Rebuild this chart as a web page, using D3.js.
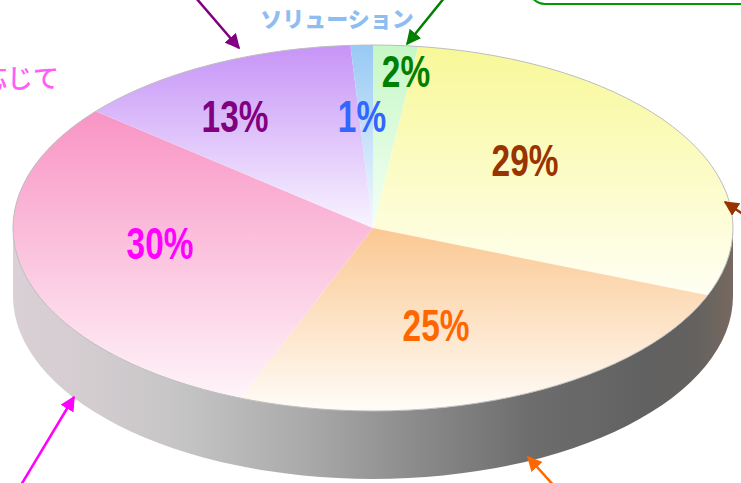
<!DOCTYPE html>
<html><head><meta charset="utf-8">
<script src="https://cdn.jsdelivr.net/npm/d3@7"></script>
<style>
html,body{margin:0;padding:0;background:#fff;overflow:hidden;}
svg{display:block;}
.pct{font-family:"Liberation Sans",Arial,sans-serif;font-weight:bold;}
.jp{font-family:"Noto Sans CJK JP","Noto Sans CJK SC",sans-serif;}
</style></head>
<body>
<script>
// ---- data ----
const categories = ["green","yellow","orange","pink","purple","blue"];
const values = [2, 29, 25, 30, 13, 1];
const labels = ["2%","29%","25%","30%","13%","1%"];
const topColors = ["#c6f7c6","#f8f898","#fbc892","#f894c4","#c794f7","#98c9f4"];
const bottomColors = ["#f4fff4","#fffff4","#fffcf8","#fff4f9","#f8f4ff","#f4f9ff"];
const labelColors = ["#008000","#993300","#ff6600","#ff00ff","#800080","#3366ff"];
// label centres (layout)
const labelPos = [[406,72],[525,161],[436,326],[160,244],[235,117],[362,117]];

const W = 741, H = 483;
const cx = 373, cy = 228, rx = 360, ry = 183, depth = 68;

const svg = d3.select("body").append("svg").attr("width", W).attr("height", H);
const defs = svg.append("defs");

// side gradient
const sg = defs.append("linearGradient").attr("id","side")
  .attr("gradientUnits","userSpaceOnUse")
  .attr("x1", cx-rx).attr("x2", cx+rx).attr("y1",0).attr("y2",0);
[[0,"#dad0d5"],[0.12,"#d2cccf"],[0.23,"#c6c5c6"],[0.4,"#ababab"],[0.58,"#878787"],
 [0.72,"#6d6d6d"],[0.88,"#616161"],[0.95,"#646260"],[1,"#77695f"]]
 .forEach(([o,c]) => sg.append("stop").attr("offset",o).attr("stop-color",c));

// slice gradients
categories.forEach((c,i) => {
  const g = defs.append("linearGradient").attr("id","g"+i)
    .attr("x1",0).attr("y1",0).attr("x2",0).attr("y2",1);
  g.append("stop").attr("offset",0).attr("stop-color",topColors[i]);
  g.append("stop").attr("offset",1).attr("stop-color",bottomColors[i]);
});

// side (front half extruded)
svg.append("path")
  .attr("d", `M${cx-rx},${cy} A${rx},${ry} 0 0 0 ${cx+rx},${cy} L${cx+rx},${cy+depth} A${rx},${ry} 0 0 1 ${cx-rx},${cy+depth} Z`)
  .attr("fill","url(#side)");

// top slices
const pieData = d3.pie().sort(null).value(d => d)(values);
const arc = d3.arc().innerRadius(0).outerRadius(rx);
const topFace = svg.append("g").attr("transform", `translate(${cx},${cy}) scale(1,${ry/rx})`);
topFace.selectAll("path.slice").data(pieData).join("path")
  .attr("class","slice")
  .attr("d", arc)
  .attr("fill", (d,i) => `url(#g${i})`);

// outline
svg.append("ellipse").attr("cx",cx).attr("cy",cy).attr("rx",rx).attr("ry",ry)
  .attr("fill","none").attr("stroke","#bdbdbd").attr("stroke-width",1);

// percentage labels (condensed)
svg.selectAll("text.pct").data(labels).join("text")
  .attr("class","pct")
  .attr("transform",(d,i)=>`translate(${labelPos[i][0]},${labelPos[i][1]}) scale(0.76,1)`)
  .attr("text-anchor","middle").attr("dominant-baseline","central")
  .attr("font-size",44)
  .attr("fill",(d,i)=>labelColors[i])
  .text(d=>d);

// outer annotation labels (cropped by the frame as in the source)
svg.append("text").attr("class","jp").attr("x",337).attr("y",27)
  .attr("text-anchor","middle").attr("font-size",22).attr("font-weight",900)
  .attr("fill","#8ebdf0")
  .text("ソリューション");
svg.append("text").attr("class","jp").attr("x",59).attr("y",88)
  .attr("text-anchor","end").attr("font-size",26).attr("font-weight",500)
  .attr("fill","#ff5cf8")
  .text("状況に応じて");

// green rounded box
svg.append("rect").attr("x",529).attr("y",-60).attr("width",260).attr("height",64)
  .attr("rx",16).attr("fill","none").attr("stroke","#009900").attr("stroke-width",2);

// arrows
function arrowMarker(id,color){
  defs.append("marker").attr("id",id).attr("viewBox","0 0 10 10")
    .attr("refX",9).attr("refY",5).attr("markerWidth",6).attr("markerHeight",6)
    .attr("markerUnits","strokeWidth").attr("orient","auto")
    .append("path").attr("d","M0,0 L10,5 L0,10 Z").attr("fill",color);
}
const arrows = [
  {from:[196,-2], to:[239,48], color:"#800080", w:2.5},
  {from:[445,-3], to:[407,44], color:"#008000", w:2.5},
  {from:[746,216], to:[725,202], color:"#993300", w:2.5},
  {from:[21,485], to:[74,397], color:"#ff00ff", w:2.5},
  {from:[556,488], to:[528,457], color:"#ff6600", w:2.5}
];
arrows.forEach((a,i)=>{
  arrowMarker("m"+i,a.color);
  svg.append("line").attr("x1",a.from[0]).attr("y1",a.from[1])
    .attr("x2",a.to[0]).attr("y2",a.to[1])
    .attr("stroke",a.color).attr("stroke-width",a.w)
    .attr("marker-end",`url(#m${i})`);
});
</script>
</body></html>
